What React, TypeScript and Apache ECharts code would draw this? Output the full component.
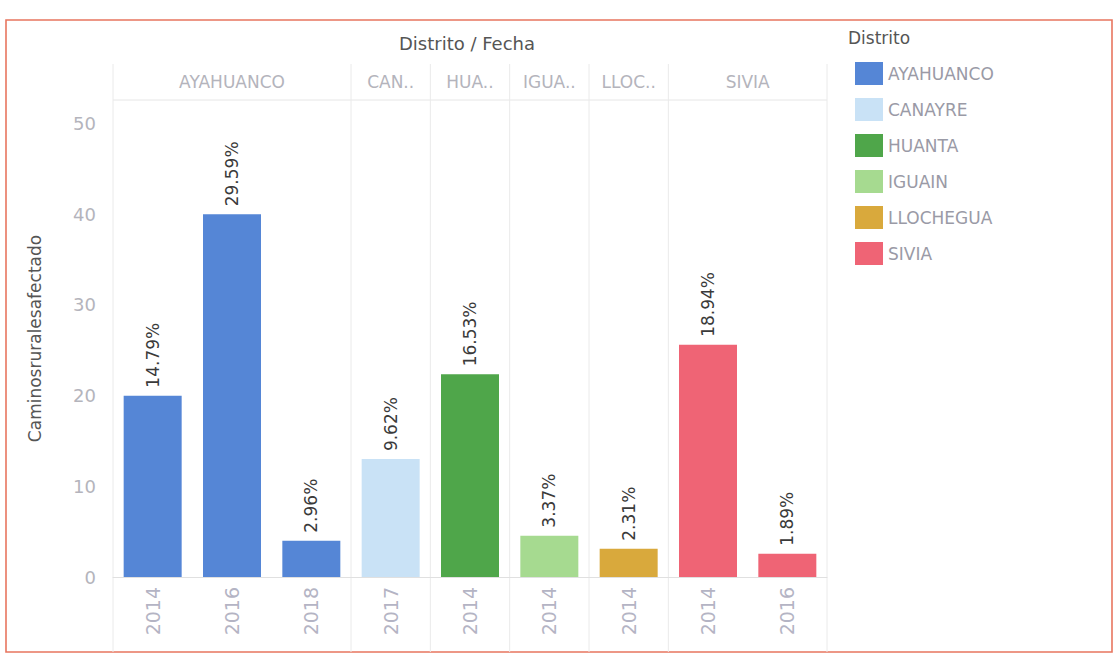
import React, { useEffect, useRef } from "react";
import * as echarts from "echarts";

// ---- data ----
const districts = ["AYAHUANCO", "CANAYRE", "HUANTA", "IGUAIN", "LLOCHEGUA", "SIVIA"];
const headerLabels = ["AYAHUANCO", "CAN..", "HUA..", "IGUA..", "LLOC..", "SIVIA"];
const districtColors = ["#5586d6", "#c9e2f6", "#4fa64a", "#a6da90", "#d9a93c", "#ef6475"];
const barDistrict = [
  "AYAHUANCO", "AYAHUANCO", "AYAHUANCO", "CANAYRE", "HUANTA",
  "IGUAIN", "LLOCHEGUA", "SIVIA", "SIVIA",
];
const years = ["2014", "2016", "2018", "2017", "2014", "2014", "2014", "2014", "2016"];
const values = [20, 40, 4, 13, 22.35, 4.56, 3.12, 25.6, 2.56];
const yTicks = [0, 10, 20, 30, 40, 50];

// ---- layout ----
const W = 1115;
const H = 657;
const GRID_LEFT = 113;
const GRID_RIGHT_X = 827;
const GRID_TOP = 100;
const GRID_BOTTOM_Y = 577;
const FONT = "'DejaVu Sans', sans-serif";

export default function App() {
  const ref = useRef<HTMLDivElement>(null);

  useEffect(() => {
    if (!ref.current) return;
    const chart = echarts.init(ref.current, undefined, { renderer: "svg" });
    const total = values.reduce((a, b) => a + b, 0);
    const cats = years.map((y, i) => `${barDistrict[i]}|${y}|${i}`);
    const band = (GRID_RIGHT_X - GRID_LEFT) / cats.length;

    const starts: number[] = [];
    const counts: number[] = [];
    districts.forEach((d) => {
      starts.push(barDistrict.indexOf(d));
      counts.push(barDistrict.filter((b) => b === d).length);
    });

    const graphics: any[] = [];
    graphics.push({
      type: "rect",
      shape: { x: 6, y: 20, width: 1106, height: 632 },
      style: { fill: "none", stroke: "#e8765f", lineWidth: 1.6 },
      silent: true,
    });
    graphics.push({
      type: "text",
      x: 467,
      y: 43,
      style: {
        text: "Distrito / Fecha",
        fill: "#555",
        font: `18px ${FONT}`,
        align: "center",
        verticalAlign: "middle",
      },
    });
    graphics.push({
      type: "text",
      x: 848,
      y: 38,
      style: {
        text: "Distrito",
        fill: "#555",
        font: `17px ${FONT}`,
        align: "left",
        verticalAlign: "middle",
      },
    });
    graphics.push({
      type: "line",
      shape: { x1: GRID_LEFT, y1: GRID_TOP, x2: GRID_RIGHT_X, y2: GRID_TOP },
      style: { stroke: "#e6e6e6", lineWidth: 1 },
      silent: true,
    });
    districts.forEach((d, k) => {
      const x0 = GRID_LEFT + starts[k] * band;
      const cx = x0 + (counts[k] * band) / 2;
      graphics.push({
        type: "text",
        x: cx,
        y: 82,
        style: {
          text: headerLabels[k],
          fill: "#b4b4bc",
          font: `17px ${FONT}`,
          align: "center",
          verticalAlign: "middle",
        },
      });
      graphics.push({
        type: "line",
        shape: { x1: x0, y1: 64, x2: x0, y2: 652 },
        style: { stroke: "#eaeaea", lineWidth: 1 },
        silent: true,
      });
    });
    graphics.push({
      type: "line",
      shape: { x1: GRID_RIGHT_X, y1: 64, x2: GRID_RIGHT_X, y2: 652 },
      style: { stroke: "#eaeaea", lineWidth: 1 },
      silent: true,
    });

    const series = districts.map((d, k) => ({
      name: d,
      type: "bar",
      stack: "all",
      barWidth: 58,
      itemStyle: { color: districtColors[k] },
      label: {
        show: true,
        position: "top",
        rotate: 90,
        align: "left",
        verticalAlign: "middle",
        distance: 8,
        color: "#3a3a3a",
        fontSize: 17,
        fontFamily: FONT,
        formatter: (p: any) => ((p.value / total) * 100).toFixed(2) + "%",
      },
      data: values.map((v, i) => (barDistrict[i] === d ? v : "-")),
    }));

    chart.setOption({
      animation: false,
      backgroundColor: "#ffffff",
      grid: {
        left: GRID_LEFT,
        right: W - GRID_RIGHT_X,
        top: GRID_TOP,
        bottom: H - GRID_BOTTOM_Y,
      },
      legend: {
        orient: "vertical",
        left: 850,
        top: 57,
        icon: "rect",
        itemWidth: 28,
        itemHeight: 23,
        itemGap: 13,
        data: districts,
        textStyle: { color: "#9a9aa6", fontSize: 17, fontFamily: FONT },
      },
      xAxis: {
        type: "category",
        data: cats,
        axisLine: { show: true, lineStyle: { color: "#e0e0e0" } },
        axisTick: { show: false },
        axisLabel: {
          rotate: 90,
          margin: 10,
          color: "#b4b4c4",
          fontSize: 19,
          fontFamily: FONT,
          interval: 0,
          formatter: (v: string) => v.split("|")[1],
        },
      },
      yAxis: {
        type: "value",
        min: 0,
        max: 52.6,
        interval: 10,
        name: "Caminosruralesafectado",
        nameLocation: "middle",
        nameGap: 70,
        nameTextStyle: { color: "#555", fontSize: 17, fontFamily: FONT },
        axisLine: { show: false },
        axisTick: { show: false },
        splitLine: { show: false },
        axisLabel: {
          margin: 17,
          color: "#b4b4bc",
          fontSize: 18,
          fontFamily: FONT,
          formatter: (v: number) => (yTicks.includes(v) ? String(v) : ""),
        },
      },
      series,
      graphic: graphics,
    });

    return () => chart.dispose();
  }, []);

  return (
    <div
      ref={ref}
      style={{ position: "fixed", left: 0, top: 0, width: W, height: H, background: "#fff" }}
    />
  );
}
